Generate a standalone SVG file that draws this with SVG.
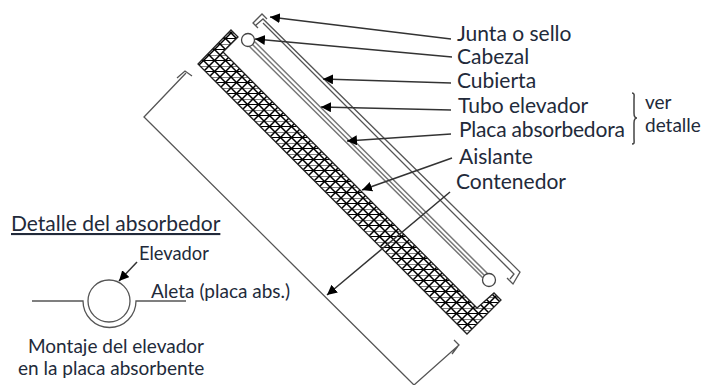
<svg xmlns="http://www.w3.org/2000/svg" width="703" height="385" viewBox="0 0 703 385">
<style>
text{font-family:"Lato","Open Sans",sans-serif;fill:#222a3a}
.l{font-size:21px}
.s{font-size:19px}
.g{fill:none;stroke:#555;stroke-width:1.3}
.t{fill:none;stroke:#777;stroke-width:1.5}
.a{fill:none;stroke:#333;stroke-width:1.5;marker-end:url(#arr)}
</style>
<defs>
<marker id="arr" markerUnits="userSpaceOnUse" markerWidth="12" markerHeight="12" refX="10" refY="5" orient="auto"><path d="M0 0L10 5L0 10Z" fill="#000"/></marker>
<pattern id="hatch" patternUnits="userSpaceOnUse" width="11" height="11"><rect width="11" height="11" fill="#fff"/><path d="M-1 -1L12 12M12 -1L-1 12" stroke="#000" stroke-width="1.5"/><path d="M0 0H11M0 5.5H11" stroke="#000" stroke-width="1.1"/></pattern>
</defs>
<g id="contenedor"><path class="g" d="M177 78L185 71L192 76M186 73L144 117L414 385L459 345L454 340M458 346L452 354"/></g>
<g id="aislante"><path d="M231 30L238 37L223 52L477 308L494 293L501 300L467 334L198 64Z" fill="url(#hatch)" stroke="#222" stroke-width="1.3"/></g>
<g id="cubierta"><path class="g" d="M267 19L262 14L253 23L258 28M256 25L263 19L520 272L513 284L507 278M263 23L514 274L510 279"/></g>
<g id="absorbedor"><path class="t" d="M252 44L485 276M254 41L488 274M249 46L483 278"/><circle cx="248" cy="40" r="6.5" fill="#fff" stroke="#444" stroke-width="1.3"/><circle cx="489" cy="280" r="6.5" fill="#fff" stroke="#444" stroke-width="1.3"/></g>
<g id="conectores">
<path class="a" d="M451 39L270 17"/>
<path class="a" d="M452 57L255 39"/>
<path class="a" d="M451 83L323 79"/>
<path class="a" d="M451 110L321 107"/>
<path class="a" d="M451 134L347 141"/>
<path class="a" d="M452 158L362 190"/>
<path class="a" d="M450 192L327 295"/>
<path class="a" d="M137 262L119 281"/>
</g>
<g id="etiquetas">
<text class="l" x="457" y="41">Junta o sello</text>
<text class="l" x="457" y="64">Cabezal</text>
<text class="l" x="457" y="88">Cubierta</text>
<text class="l" x="458" y="113">Tubo elevador</text>
<text class="l" x="459" y="137" letter-spacing="-0.2">Placa absorbedora</text>
<text class="l" x="459" y="164">Aislante</text>
<text class="l" x="456" y="189">Contenedor</text>
<text class="s" x="645" y="109">ver</text>
<text class="s" x="645" y="132">detalle</text>
<path d="M632 93C635 93 634 96 634 100V113C634 116 635 118 637 118C635 118 634 120 634 123V138C634 142 635 144 632 144" fill="none" stroke="#444" stroke-width="1.5"/>
</g>
<g id="detalle">
<text x="11" y="231" font-size="21" text-decoration="underline">Detalle del absorbedor</text>
<circle cx="109" cy="301" r="21" fill="none" stroke="#555" stroke-width="1.3"/>
<path class="g" d="M32 301H83A26.5 26.5 0 0 0 136 301H186"/>
<text class="s" x="139" y="260" style="font-size:18.3px">Elevador</text>
<text class="s" x="151" y="298">Aleta (placa abs.)</text>
<text class="s" x="28" y="353">Montaje del elevador</text>
<text class="s" x="18" y="375">en la placa absorbente</text>
</g>
</svg>
